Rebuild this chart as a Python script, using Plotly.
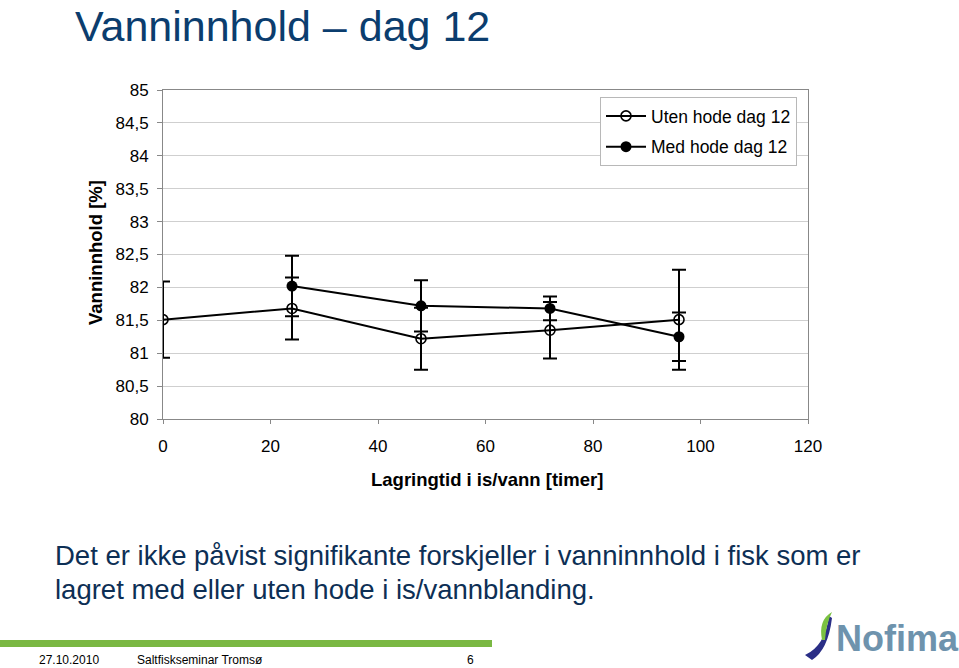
import plotly.graph_objects as go

# ---- data ----
x_uten = [0, 24, 48, 72, 96]
y_uten = [81.51, 81.68, 81.22, 81.35, 81.51]
err_uten = [0.58, 0.47, 0.47, 0.43, 0.76]

x_med = [24, 48, 72, 96]
y_med = [82.02, 81.72, 81.68, 81.25]
err_med = [0.46, 0.39, 0.18, 0.37]

series_names = ["Uten hode dag 12", "Med hode dag 12"]

W, H = 959, 668
def px(x):
    return x / W
def py(y):
    return 1 - y / H

fig = go.Figure()

fig.add_trace(go.Scatter(
    x=x_uten, y=y_uten, name=series_names[0], mode="lines+markers", legendgroup="a",
    line=dict(color="black", width=2),
    marker=dict(symbol="circle-open", size=10, color="black", line=dict(width=1.6, color="black")),
    error_y=dict(type="data", array=err_uten, symmetric=True, color="black", thickness=2, width=7),
))
fig.add_trace(go.Scatter(
    x=x_med, y=y_med, name=series_names[1], mode="lines+markers", legendgroup="b",
    line=dict(color="black", width=2),
    marker=dict(symbol="circle", size=11, color="black"),
    error_y=dict(type="data", array=err_med, symmetric=True, color="black", thickness=2, width=7),
))

font_main = "Liberation Sans, Arial, sans-serif"

fig.update_layout(
    width=W, height=H,
    margin=dict(l=0, r=0, t=0, b=0, autoexpand=False),
    paper_bgcolor="white", plot_bgcolor="white",
    separators=", ",
    font=dict(family=font_main, size=17, color="black"),
    showlegend=True,
    legend=dict(x=px(600), y=py(97), xanchor="left", yanchor="top",
                bordercolor="#b8b8b8", borderwidth=1, bgcolor="white",
                font=dict(size=17.5, family=font_main), tracegroupgap=5,
                itemwidth=40),
    xaxis=dict(domain=[px(163), px(808)], range=[0, 120], dtick=20,
               showgrid=False, zeroline=False,
               showline=True, linecolor="#888888", linewidth=1, mirror=True,
               ticks="outside", ticklen=4, tickcolor="#888888",
               tickfont=dict(size=17), ticklabelstandoff=8),
    yaxis=dict(domain=[py(419), py(90)], range=[80, 85], dtick=0.5,
               showgrid=True, gridcolor="#cfcfcf", gridwidth=1, zeroline=False,
               showline=True, linecolor="#888888", linewidth=1, mirror=True,
               ticks="outside", ticklen=5, tickcolor="#888888",
               tickfont=dict(size=17), ticklabelstandoff=5),
)

annotations = [
    dict(text="Vanninnhold \u2013 dag 12", x=px(73), y=1, xanchor="left", yanchor="top",
         font=dict(size=43, color="#0b3d6e", family=font_main)),
    dict(text="<b>Vanninnhold [%]</b>", x=px(96), y=py(253), xanchor="center", yanchor="middle",
         textangle=-90, font=dict(size=18.5, color="black", family=font_main)),
    dict(text="<b>Lagringtid i is/vann [timer]</b>", x=px(487), y=py(479), xanchor="center", yanchor="middle",
         font=dict(size=18.5, color="black", family=font_main)),
    dict(text="Det er ikke påvist signifikante forskjeller i vanninnhold i fisk som er",
         x=px(53), y=py(555), xanchor="left", yanchor="middle",
         font=dict(size=27.5, color="#0d2f55", family=font_main)),
    dict(text="lagret med eller uten hode i is/vannblanding.",
         x=px(53), y=py(589), xanchor="left", yanchor="middle",
         font=dict(size=27.5, color="#0d2f55", family=font_main)),
    dict(text="27.10.2010", x=px(37), y=py(660), xanchor="left", yanchor="middle",
         font=dict(size=12, color="black", family="Liberation Sans Narrow, Arial Narrow, sans-serif")),
    dict(text="Saltfiskseminar Tromsø", x=px(135), y=py(660), xanchor="left", yanchor="middle",
         font=dict(size=12, color="black", family="Liberation Sans Narrow, Arial Narrow, sans-serif")),
    dict(text="6", x=px(470), y=py(660), xanchor="center", yanchor="middle",
         font=dict(size=12, color="black", family="Liberation Sans Narrow, Arial Narrow, sans-serif")),
    dict(text="<b>Nofima</b>", x=px(834), y=py(638), xanchor="left", yanchor="middle",
         font=dict(size=36, color="#6e93ad", family=font_main)),
]
for a in annotations:
    a.update(xref="paper", yref="paper", showarrow=False)
fig.update_layout(annotations=annotations)

shapes = [
    # green footer bar
    dict(type="rect", xref="paper", yref="paper", x0=0, x1=px(492), y0=py(647), y1=py(640),
         fillcolor="#7ab843", line=dict(width=0)),
    # logo swoosh: dark blue
    dict(type="path", xref="paper", yref="paper",
         path=(f"M {px(805)},{py(655)} L {px(812)},{py(660)} Q {px(828)},{py(650)} {px(832)},{py(618)} "
               f"L {px(829)},{py(616)} Q {px(825)},{py(646)} {px(805)},{py(655)} Z"),
         fillcolor="#2a2e86", line=dict(width=0)),
    # logo swoosh: green leaf
    dict(type="path", xref="paper", yref="paper",
         path=(f"M {px(822)},{py(640)} Q {px(818)},{py(620)} {px(832)},{py(612)} "
               f"Q {px(826)},{py(624)} {px(825)},{py(640)} Z"),
         fillcolor="#7bc142", line=dict(width=0)),
]
fig.update_layout(shapes=shapes)

fig.write_html(
    "out.html",
    config={"displayModeBar": False},
    post_script="document.documentElement.style.overflow='hidden';document.body.style.margin='0';document.body.style.overflow='hidden';",
)
